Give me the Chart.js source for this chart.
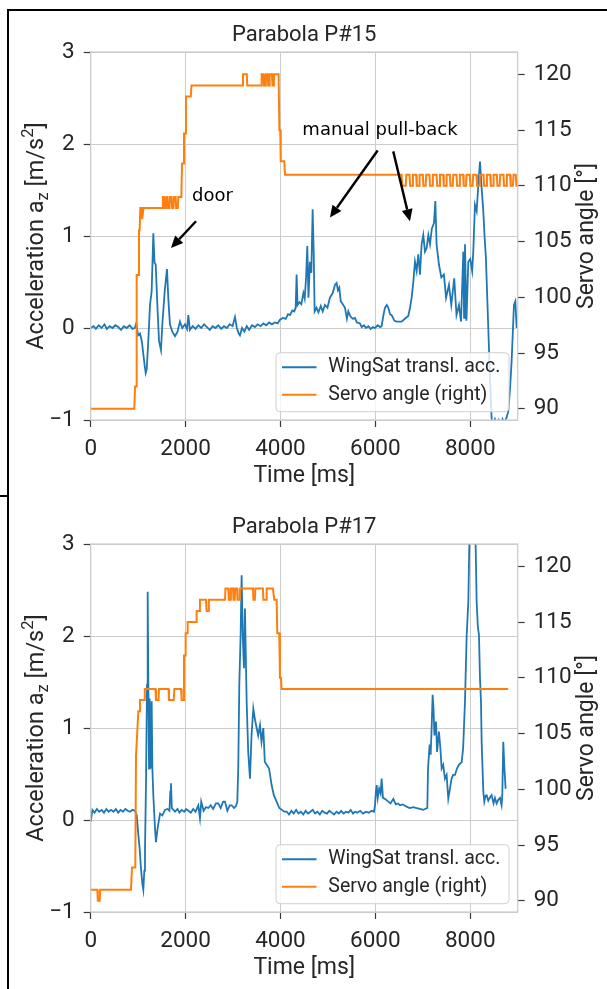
<!DOCTYPE html>
<html><head><meta charset="utf-8">
<script src="https://cdn.jsdelivr.net/npm/chart.js@4.4.1/dist/chart.umd.min.js"></script>
<style>
html,body{margin:0;padding:0;background:#fff;}
body{width:607px;height:989px;position:relative;overflow:hidden;}
canvas{position:absolute;left:0;display:block;}
#c1{top:0;} #c2{top:492px;}
.ln{position:absolute;background:#000;}
</style></head>
<body>
<div class="ln" style="left:7px;top:9px;width:600px;height:1.5px"></div>
<div class="ln" style="left:7px;top:9px;width:1.5px;height:980px"></div>
<div class="ln" style="left:0;top:495px;width:8px;height:1.5px"></div>
<canvas id="c1" width="607" height="495"></canvas>
<canvas id="c2" width="607" height="495"></canvas>
<script>
// ---------- data ----------
const TITLES = ['Parabola P#15', 'Parabola P#17'];
const SERIES_NAMES = ['WingSat transl. acc.', 'Servo angle (right)'];
const X_TICKS = [0, 2000, 4000, 6000, 8000];
const ACC_TICKS = [-1, 0, 1, 2, 3];
const SERVO_TICKS = [90, 95, 100, 105, 110, 115, 120];

// P#15 acceleration [time ms, a_z m/s^2]
const p15Acc = [[0,0.0],[60,0.02],[110,-0.01],[170,0.03],[230,0.0],[290,0.04],[340,-0.01],[400,0.02],[460,0.0],[520,0.03],[580,0.01],[640,-0.02],[700,0.02],[760,0.0],[820,0.03],[880,-0.01],[930,0.0],[960,0.05],[1000,-0.08],[1040,-0.06],[1080,-0.15],[1110,-0.29],[1140,-0.42],[1160,-0.49],[1180,-0.45],[1210,-0.18],[1250,0.25],[1285,0.4],[1320,1.03],[1345,0.71],[1370,0.69],[1411,0.18],[1440,-0.14],[1481,-0.24],[1510,0.04],[1560,0.40],[1608,0.64],[1635,0.33],[1670,0.04],[1720,-0.04],[1777,-0.09],[1830,-0.04],[1882,0.07],[1930,0.0],[1987,0.04],[2030,-0.01],[2058,0.14],[2090,-0.02],[2150,0.02],[2210,-0.01],[2270,0.03],[2330,0.0],[2390,0.04],[2450,0.01],[2510,-0.02],[2570,0.02],[2630,0.0],[2690,0.03],[2750,-0.01],[2810,0.02],[2870,0.0],[2930,0.04],[2990,0.02],[3041,0.12],[3080,0.0],[3120,-0.06],[3146,-0.08],[3190,0.0],[3240,-0.04],[3290,0.02],[3340,-0.02],[3400,0.03],[3460,0.01],[3520,0.04],[3580,0.02],[3640,0.05],[3700,0.03],[3760,0.06],[3820,0.04],[3880,0.06],[3940,0.05],[3990,0.09],[4050,0.11],[4110,0.10],[4160,0.15],[4200,0.14],[4250,0.19],[4290,0.18],[4320,0.22],[4340,0.58],[4360,0.25],[4400,0.28],[4440,0.26],[4482,0.38],[4510,0.32],[4540,0.55],[4565,0.89],[4590,0.33],[4620,0.72],[4650,0.60],[4678,1.29],[4700,0.83],[4720,0.18],[4760,0.22],[4800,0.17],[4850,0.24],[4890,0.18],[4937,0.25],[4990,0.22],[5043,0.33],[5100,0.38],[5150,0.47],[5183,0.49],[5210,0.41],[5240,0.44],[5270,0.29],[5300,0.27],[5360,0.22],[5400,0.10],[5430,0.18],[5470,0.13],[5520,0.10],[5570,0.11],[5610,0.06],[5676,0.05],[5711,0.01],[5760,0.03],[5800,0.0],[5851,0.02],[5900,-0.01],[5950,0.01],[5992,0.0],[6050,0.03],[6100,0.01],[6132,0.02],[6170,0.14],[6202,0.22],[6240,0.25],[6273,0.22],[6310,0.15],[6343,0.14],[6400,0.08],[6448,0.07],[6500,0.07],[6554,0.07],[6620,0.10],[6694,0.13],[6730,0.22],[6765,0.33],[6800,0.50],[6835,0.72],[6870,0.62],[6905,0.80],[6940,0.58],[6975,0.91],[7010,1.01],[7045,0.83],[7081,0.87],[7116,1.01],[7151,0.91],[7190,1.08],[7235,1.14],[7264,1.38],[7290,0.91],[7340,0.69],[7390,0.55],[7445,0.58],[7490,0.33],[7551,0.47],[7600,0.25],[7662,0.54],[7710,0.14],[7762,0.25],[7805,0.07],[7854,0.83],[7870,0.11],[7889,0.91],[7920,0.08],[7959,0.72],[8000,0.75],[8040,0.62],[8064,0.83],[8099,1.34],[8135,1.27],[8170,1.56],[8205,1.81],[8240,1.52],[8275,1.27],[8300,1.01],[8330,0.76],[8380,0.0],[8415,-0.54],[8450,-0.98],[8480,-1.05],[8520,-0.99],[8560,-1.04],[8600,-1.0],[8640,-1.06],[8680,-0.99],[8720,-1.03],[8760,-0.98],[8801,-0.91],[8840,-0.65],[8872,-0.36],[8921,0.25],[8950,0.29],[8978,0.0]];

// P#15 servo angle [time ms, deg]
const p15Servo = [[0,90],[919,90],[935,92],[955,92],[969,102],[1005,102],[1018,106],[1032,106],[1045,108],[1075,108],[1085,107],[1100,107],[1112,108],[1510,108],[1522,109],[1545,109],[1557,108],[1585,108],[1597,109],[1618,109],[1630,108],[1660,108],[1672,109],[1705,109],[1717,108],[1745,108],[1757,109],[1790,109],[1802,108],[1835,108],[1847,109],[1910,109],[1925,112],[1955,112],[1966,114.7],[1995,114.7],[2008,118],[2110,118],[2125,119],[3195,119],[3210,120],[3290,120],[3300,119],[3590,119],[3604,120],[3640,120],[3652,119],[3680,119],[3692,120],[3730,120],[3742,119],[3760,119],[3772,120],[3820,120],[3832,119],[3850,119],[3862,120],[3960,120],[3977,115],[3995,115],[4005,112.2],[4080,112.2],[4096,111],[6554,111],[6568,110],[6640,110],[6652,111],[6720,111],[6732,110],[6780,110],[6792,111],[6860,111],[6872,110],[6920,110],[6932,111],[7000,111],[7012,110],[7060,110],[7072,111],[7140,111],[7152,110],[7200,110],[7212,111],[7290,111],[7302,110],[7350,110],[7362,111],[7430,111],[7442,110],[7490,110],[7502,111],[7570,111],[7582,110],[7630,110],[7642,111],[7710,111],[7722,110],[7770,110],[7782,111],[7850,111],[7862,110],[7910,110],[7922,111],[7990,111],[8002,110],[8050,110],[8062,111],[8130,111],[8142,110],[8190,110],[8202,111],[8280,111],[8292,110],[8340,110],[8352,111],[8420,111],[8432,110],[8480,110],[8492,111],[8560,111],[8572,110],[8620,110],[8632,111],[8700,111],[8712,110],[8760,110],[8772,111],[8840,111],[8852,110],[8900,110],[8912,111],[8960,111],[8972,110],[9000,110]];

// P#17 acceleration
const p17Acc = [[0,-0.02],[35,0.11],[80,0.08],[130,0.12],[180,0.09],[230,0.11],[280,0.08],[330,0.12],[380,0.09],[430,0.11],[480,0.09],[530,0.12],[580,0.08],[630,0.11],[680,0.09],[730,0.12],[780,0.10],[830,0.09],[880,0.11],[933,0.10],[970,0.05],[1004,-0.16],[1030,-0.30],[1060,-0.53],[1090,-0.70],[1109,-0.76],[1130,-0.55],[1144,-0.34],[1165,0.38],[1187,1.47],[1201,2.48],[1215,1.47],[1229,0.56],[1243,1.32],[1264,0.56],[1285,1.29],[1300,0.56],[1320,0.27],[1355,-0.09],[1376,-0.24],[1410,-0.09],[1461,0.07],[1510,0.05],[1566,0.11],[1620,0.12],[1660,0.10],[1678,0.31],[1692,0.40],[1710,0.13],[1777,0.09],[1830,0.12],[1870,0.08],[1917,0.11],[1970,0.09],[2010,0.12],[2058,0.10],[2110,0.08],[2160,0.12],[2210,0.09],[2268,0.16],[2303,0.02],[2330,0.20],[2380,0.10],[2430,0.14],[2479,0.13],[2530,0.16],[2580,0.12],[2640,0.18],[2690,0.18],[2740,0.13],[2790,0.20],[2830,0.20],[2880,0.10],[2930,0.16],[2971,0.16],[3020,0.13],[3060,0.15],[3090,0.20],[3110,0.56],[3132,1.47],[3160,2.01],[3181,2.66],[3205,2.01],[3230,1.65],[3251,2.30],[3287,1.29],[3320,0.74],[3357,0.45],[3390,0.92],[3428,1.21],[3460,1.10],[3498,1.0],[3530,0.92],[3568,1.03],[3600,0.85],[3638,1.0],[3670,0.63],[3709,0.60],[3760,0.56],[3813,0.38],[3860,0.27],[3919,0.20],[3975,0.13],[4030,0.11],[4080,0.09],[4130,0.09],[4180,0.06],[4230,0.10],[4280,0.07],[4330,0.11],[4380,0.07],[4430,0.09],[4480,0.06],[4530,0.10],[4580,0.07],[4630,0.09],[4680,0.11],[4730,0.07],[4780,0.09],[4830,0.06],[4880,0.10],[4930,0.08],[4980,0.07],[5030,0.10],[5080,0.08],[5130,0.06],[5180,0.09],[5230,0.07],[5280,0.10],[5330,0.07],[5380,0.09],[5430,0.08],[5480,0.11],[5530,0.07],[5570,0.09],[5620,0.08],[5680,0.10],[5740,0.07],[5800,0.09],[5860,0.08],[5922,0.10],[5970,0.09],[5992,0.16],[6010,0.30],[6027,0.38],[6050,0.24],[6080,0.34],[6110,0.29],[6132,0.45],[6160,0.24],[6200,0.23],[6273,0.20],[6320,0.18],[6378,0.23],[6430,0.17],[6480,0.18],[6519,0.16],[6580,0.17],[6659,0.145],[6720,0.13],[6800,0.14],[6870,0.13],[6940,0.12],[7010,0.11],[7095,0.13],[7110,0.56],[7144,0.82],[7165,0.71],[7186,1.0],[7207,1.36],[7225,1.22],[7245,0.92],[7278,1.07],[7300,0.74],[7340,0.96],[7370,0.78],[7397,0.56],[7430,0.60],[7467,0.45],[7502,0.49],[7537,0.23],[7572,0.34],[7607,0.45],[7640,0.49],[7678,0.49],[7720,0.56],[7760,0.60],[7819,0.63],[7850,0.78],[7889,1.29],[7924,2.0],[7959,2.37],[7980,3.0],[8010,3.4],[8050,3.6],[8090,3.4],[8113,3.0],[8135,2.37],[8160,2.1],[8184,2.01],[8205,1.54],[8226,1.29],[8240,0.85],[8275,0.31],[8296,0.20],[8320,0.26],[8345,0.27],[8380,0.21],[8420,0.25],[8450,0.27],[8490,0.18],[8520,0.24],[8555,0.18],[8590,0.22],[8626,0.24],[8660,0.16],[8675,0.27],[8696,0.85],[8720,0.56],[8745,0.34]];

// P#17 servo angle
const p17Servo = [[0,91],[140,91],[150,90],[190,90],[200,91],[849,91],[870,93],[940,93],[955,103],[1004,107],[1020,107],[1039,108],[1130,108],[1140,109],[1365,109],[1376,108],[1430,108],[1440,109],[1640,109],[1650,108],[1750,108],[1763,109],[1905,109],[1917,108],[1955,108],[1966,112],[1990,112],[2001,114],[2030,114],[2043,115],[2220,115],[2233,116],[2290,116],[2303,117],[2430,117],[2443,116],[2480,116],[2490,117],[2830,117],[2840,118],[2900,118],[2910,117],[2945,117],[2955,118],[3000,118],[3010,117],[3035,117],[3045,118],[3085,118],[3095,117],[3140,117],[3150,118],[3420,118],[3430,117],[3460,117],[3470,118],[3630,118],[3640,117],[3700,117],[3710,118],[3840,118],[3870,117],[3920,117],[3933,114],[3975,114],[3989,110],[4010,110],[4024,109],[8800,109]];

// annotations (data coordinates: time ms, a_z)
const NOTES = [
  {text: 'door', at: [2567, 1.43], arrows: [[[2219, 1.16], [1692, 0.87]]]},
  {text: 'manual pull-back', at: [6097, 2.145], arrows: [[[6048, 1.93], [5043, 1.20]], [[6377, 1.92], [6729, 1.16]]]}
];

// ---------- styling ----------
const BLUE = '#1f77b4', ORANGE = '#ff7f0e';
const FONT = 'Roboto, "Open Sans", sans-serif';
const TXT = '#262626', GRID = '#cccccc', TICKC = '#3a3a3a';

function drawRich(ctx, parts, cx, baseY, rot) {
  ctx.save();
  let w = 0;
  parts.forEach(p => { ctx.font = p[1] + 'px ' + FONT; w += ctx.measureText(p[0]).width; });
  ctx.translate(cx, baseY);
  if (rot) ctx.rotate(rot);
  ctx.fillStyle = TXT; ctx.textAlign = 'left'; ctx.textBaseline = 'alphabetic';
  let x = -w / 2;
  parts.forEach(p => { ctx.font = p[1] + 'px ' + FONT; ctx.fillText(p[0], x, p[2]); x += ctx.measureText(p[0]).width; });
  ctx.restore();
}

const extras = {
  id: 'extras',
  afterDatasetsDraw(chart, args, opts) {
    const {ctx, chartArea: a} = chart;
    ctx.save();
    ctx.strokeStyle = GRID; ctx.lineWidth = 1.25;
    ctx.strokeRect(a.left, a.top, a.right - a.left, a.bottom - a.top);
    // legend (lower right)
    const bw = 233, bh = 59, bx = a.right - 8.7 - bw, by = a.bottom - 8.3 - bh;
    ctx.beginPath(); ctx.roundRect(bx, by, bw, bh, 4);
    ctx.fillStyle = 'rgba(255,255,255,0.8)'; ctx.fill();
    ctx.strokeStyle = '#d0d0d0'; ctx.lineWidth = 1; ctx.stroke();
    const cols = [BLUE, ORANGE];
    SERIES_NAMES.forEach((n, i) => {
      const y = by + 14.6 + i * 27.4;
      ctx.strokeStyle = cols[i]; ctx.lineWidth = 2;
      ctx.beginPath(); ctx.moveTo(bx + 6, y); ctx.lineTo(bx + 40.5, y); ctx.stroke();
      ctx.fillStyle = TXT; ctx.font = '19.5px ' + FONT; ctx.textBaseline = 'middle'; ctx.textAlign = 'left';
      ctx.fillText(n, bx + 52.3, y);
    });
    ctx.restore();
  },
  afterDraw(chart, args, opts) {
    const {ctx, chartArea: a, scales} = chart;
    const mid = (a.left + a.right) / 2, vmid = (a.top + a.bottom) / 2;
    ctx.save();
    ctx.fillStyle = TXT; ctx.textAlign = 'center'; ctx.textBaseline = 'alphabetic';
    ctx.font = '22px ' + FONT;
    ctx.fillText(opts.title, mid, 40.7);
    ctx.font = '23px ' + FONT;
    ctx.fillText('Time [ms]', mid, 481.5);
    ctx.restore();
    drawRich(ctx, [['Acceleration a', 23.5, 0], ['z', 16.5, 5], [' [m/s', 23.5, 0], ['2', 16.5, -9.5], [']', 23.5, 0]], 42.6, vmid, -Math.PI / 2);
    ctx.save();
    ctx.translate(593, vmid); ctx.rotate(-Math.PI / 2);
    ctx.fillStyle = TXT; ctx.font = '23px ' + FONT; ctx.textAlign = 'center'; ctx.textBaseline = 'alphabetic';
    ctx.fillText('Servo angle [\u00b0]', 0, 0);
    ctx.restore();
    if (opts.notes) {
      const X = scales.x, Y = scales.y;
      ctx.save();
      NOTES.forEach(n => {
        ctx.fillStyle = '#000'; ctx.font = '18px "DejaVu Sans", sans-serif';
        ctx.textAlign = 'center'; ctx.textBaseline = 'middle';
        ctx.fillText(n.text, X.getPixelForValue(n.at[0]), Y.getPixelForValue(n.at[1]));
        n.arrows.forEach(ar => {
          const x0 = X.getPixelForValue(ar[0][0]), y0 = Y.getPixelForValue(ar[0][1]);
          const x1 = X.getPixelForValue(ar[1][0]), y1 = Y.getPixelForValue(ar[1][1]);
          const ang = Math.atan2(y1 - y0, x1 - x0), L = 12, W = 5.5;
          const bxp = x1 - L * Math.cos(ang), byp = y1 - L * Math.sin(ang);
          ctx.strokeStyle = '#000'; ctx.lineWidth = 2.4;
          ctx.beginPath(); ctx.moveTo(x0, y0); ctx.lineTo(bxp, byp); ctx.stroke();
          ctx.beginPath(); ctx.moveTo(x1, y1);
          ctx.lineTo(bxp + W * Math.sin(ang), byp - W * Math.cos(ang));
          ctx.lineTo(bxp - W * Math.sin(ang), byp + W * Math.cos(ang));
          ctx.closePath(); ctx.fill();
        });
      });
      ctx.restore();
    }
  }
};

function pts(arr) { return arr.map(p => ({x: p[0], y: p[1]})); }
function setTicks(vals) { return s => { s.ticks = vals.map(v => ({value: v})); }; }
const tickFont = {family: FONT, size: 22.5};
const plain = v => String(v).replace('-', '\u2212');

function build(id, title, acc, servo, notes) {
  return new Chart(document.getElementById(id), {
    type: 'line',
    data: {datasets: [
      {label: SERIES_NAMES[1], data: pts(servo), yAxisID: 'y2', borderColor: ORANGE, borderWidth: 2, pointRadius: 0, tension: 0, clip: 0},
      {label: SERIES_NAMES[0], data: pts(acc), yAxisID: 'y', borderColor: BLUE, borderWidth: 1.8, pointRadius: 0, tension: 0, clip: 0}
    ]},
    options: {
      responsive: false, animation: false, devicePixelRatio: 1,
      layout: {padding: {top: 52, left: 0, right: 0, bottom: 0}},
      plugins: {legend: {display: false}, tooltip: {enabled: false}, title: {display: false},
                extras: {title: title, notes: notes}},
      scales: {
        x: {type: 'linear', min: 0, max: 9000, afterBuildTicks: setTicks(X_TICKS),
            afterFit: s => { s.height = 75; },
            border: {display: false},
            grid: {color: GRID, lineWidth: 1, tickColor: TICKC, tickLength: 7, tickWidth: 1.2},
            ticks: {font: tickFont, color: TXT, padding: 9, maxRotation: 0, autoSkip: false, callback: plain}},
        y: {type: 'linear', position: 'left', min: -1, max: 3, afterBuildTicks: setTicks(ACC_TICKS),
            afterFit: s => { s.width = 90.7; },
            border: {display: false},
            grid: {color: GRID, lineWidth: 1, tickColor: TICKC, tickLength: 7, tickWidth: 1.2},
            ticks: {font: tickFont, color: TXT, padding: 9, callback: plain}},
        y2: {type: 'linear', position: 'right', min: 89, max: 122, afterBuildTicks: setTicks(SERVO_TICKS),
            afterFit: s => { s.width = 607 - 517.7; },
            border: {display: false},
            grid: {drawOnChartArea: false, tickColor: TICKC, tickLength: 7, tickWidth: 1.2},
            ticks: {font: tickFont, color: TXT, padding: 9, callback: plain}}
      }
    },
    plugins: [extras]
  });
}
build('c1', TITLES[0], p15Acc, p15Servo, true);
build('c2', TITLES[1], p17Acc, p17Servo, false);
</script>
</body></html>
